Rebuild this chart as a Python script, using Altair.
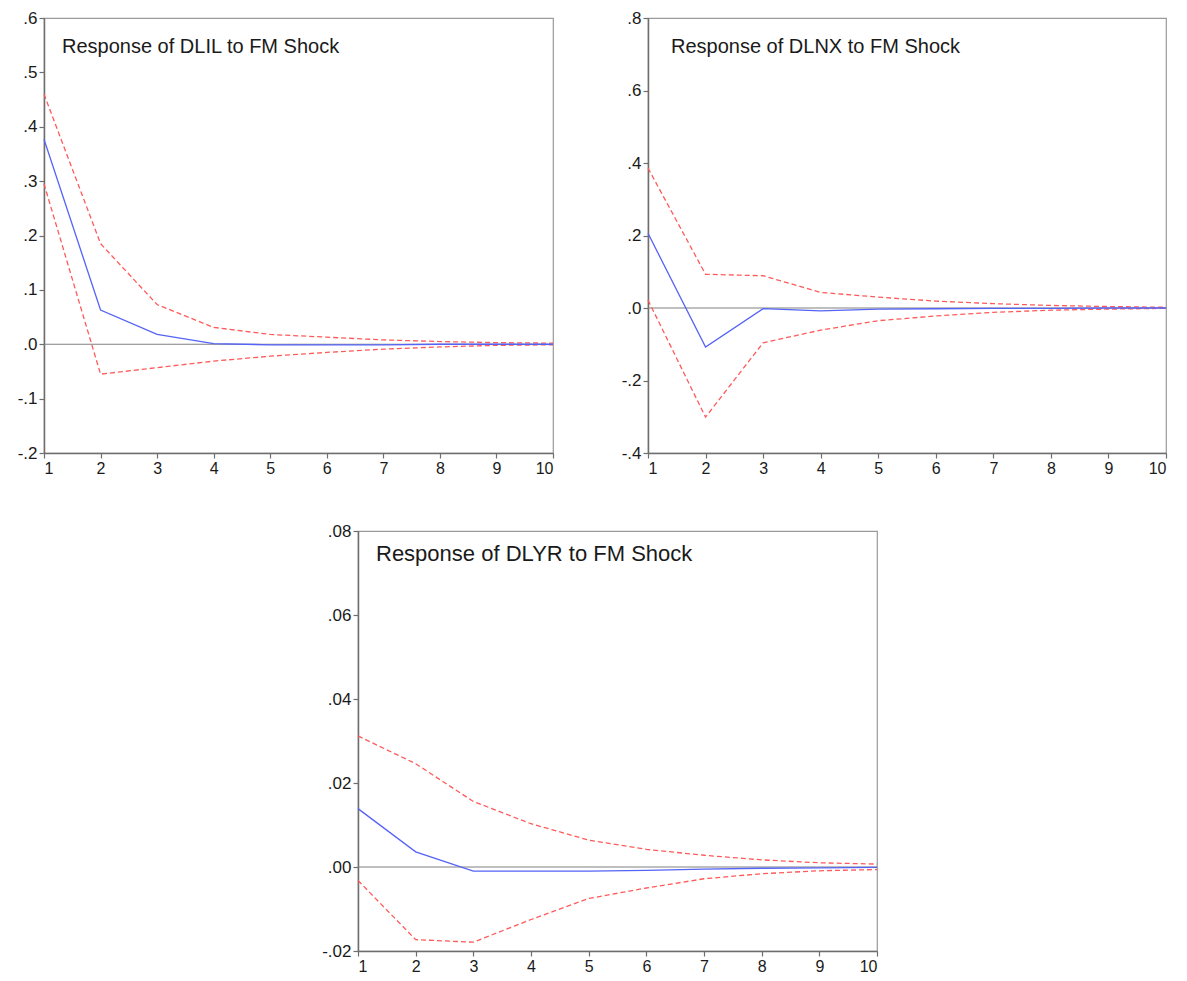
import altair as alt
import pandas as pd

periods = [1, 2, 3, 4, 5, 6, 7, 8, 9, 10]

# Response of DLIL to FM Shock
dlil_title = "Response of DLIL to FM Shock"
dlil_resp = [0.377, 0.063, 0.018, 0.001, -0.001, -0.001, -0.001, 0.0, 0.0, 0.0]
dlil_upper = [0.460, 0.185, 0.073, 0.031, 0.018, 0.013, 0.008, 0.005, 0.003, 0.002]
dlil_lower = [0.295, -0.055, -0.043, -0.031, -0.022, -0.015, -0.009, -0.005, -0.002, -0.001]
dlil_ticks = [-0.2, -0.1, 0.0, 0.1, 0.2, 0.3, 0.4, 0.5, 0.6]

# Response of DLNX to FM Shock
dlnx_title = "Response of DLNX to FM Shock"
dlnx_resp = [0.206, -0.108, -0.002, -0.008, -0.003, -0.002, -0.001, -0.001, 0.0, 0.0]
dlnx_upper = [0.386, 0.093, 0.089, 0.043, 0.030, 0.019, 0.012, 0.007, 0.004, 0.002]
dlnx_lower = [0.022, -0.301, -0.096, -0.061, -0.035, -0.022, -0.012, -0.006, -0.003, -0.001]
dlnx_ticks = [-0.4, -0.2, 0.0, 0.2, 0.4, 0.6, 0.8]

# Response of DLYR to FM Shock
dlyr_title = "Response of DLYR to FM Shock"
dlyr_resp = [0.0139, 0.0036, -0.0010, -0.0010, -0.0010, -0.0008, -0.0005, -0.0003, -0.0002, -0.0001]
dlyr_upper = [0.0312, 0.0246, 0.0156, 0.0103, 0.0064, 0.0042, 0.0028, 0.0017, 0.0010, 0.0007]
dlyr_lower = [-0.0032, -0.0173, -0.0179, -0.0125, -0.0075, -0.0050, -0.0028, -0.0016, -0.0009, -0.0006]
dlyr_ticks = [-0.02, 0.0, 0.02, 0.04, 0.06, 0.08]

BLUE = "#5563f7"
RED = "#ff5a5a"
AXIS_GRAY = "#6e6e6e"


def panel(title, resp, upper, lower, ticks, decimals, w, h, title_size, tx, ty):
    band = pd.DataFrame({
        "period": periods * 2,
        "value": upper + lower,
        "band": ["upper"] * len(periods) + ["lower"] * len(periods),
    })
    main = pd.DataFrame({"period": periods, "value": resp})
    label_expr = (
        "(datum.value < 0 ? '-' : '') + replace(format(abs(datum.value), '.%df'), '0.', '.')"
        % decimals
    )
    x_enc = alt.X(
        "period:Q",
        scale=alt.Scale(domain=[1, 10], nice=False, zero=False),
        axis=alt.Axis(values=periods, format="d", title=None, grid=False, labelFontSize=16),
    )
    y_enc = alt.Y(
        "value:Q",
        scale=alt.Scale(domain=[ticks[0], ticks[-1]], nice=False, zero=False),
        axis=alt.Axis(values=ticks, labelExpr=label_expr, title=None, grid=False,
                      minExtent=30, labelFontSize=17),
    )
    zero = alt.Chart(pd.DataFrame({"z": [0.0]})).mark_rule(
        color="#808080", strokeWidth=1.2
    ).encode(y=alt.Y("z:Q"))
    bands = alt.Chart(band).mark_line(
        color=RED, strokeWidth=1.3, strokeDash=[5, 3]
    ).encode(x=x_enc, y=y_enc, detail="band:N")
    line = alt.Chart(main).mark_line(color=BLUE, strokeWidth=1.3).encode(x=x_enc, y=y_enc)
    txt = alt.Chart(pd.DataFrame({"t": [title]})).mark_text(
        align="left", baseline="top", fontSize=title_size, color="#1a1a1a",
        font="Liberation Sans",
    ).encode(text="t:N", x=alt.value(tx), y=alt.value(ty))
    return alt.layer(zero, bands, line, txt).properties(width=w, height=h)


p1 = panel(dlil_title, dlil_resp, dlil_upper, dlil_lower, dlil_ticks, 1, 509, 435, 20, 18, 19)
p2 = panel(dlnx_title, dlnx_resp, dlnx_upper, dlnx_lower, dlnx_ticks, 1, 518, 435, 20, 23, 19)
p3 = panel(dlyr_title, dlyr_resp, dlyr_upper, dlyr_lower, dlyr_ticks, 2, 519, 420, 22, 18, 13)

spacer = alt.Chart(pd.DataFrame({"s": [""]})).mark_text().encode(
    text="s:N", x=alt.value(0), y=alt.value(0)
).properties(width=276, height=420,
             view=alt.ViewBackground(stroke="transparent", fill="transparent"))

top = alt.hconcat(p1, p2, spacing=60)
bottom = alt.hconcat(spacer, p3, spacing=0)
chart = alt.vconcat(top, bottom, spacing=44).properties(
    padding={"left": 5, "top": 0, "right": 0, "bottom": 0},
    background="white",
).configure_view(
    stroke="#9a9a9a", strokeWidth=1.2
).configure_axis(
    domainColor=AXIS_GRAY, domainWidth=1.5, tickColor=AXIS_GRAY, tickWidth=1.2,
    tickSize=5, labelFont="Liberation Sans", labelColor="#1a1a1a",
    labelPadding=2,
)

chart.save("out.html", embed_options={"renderer": "svg", "actions": False})
